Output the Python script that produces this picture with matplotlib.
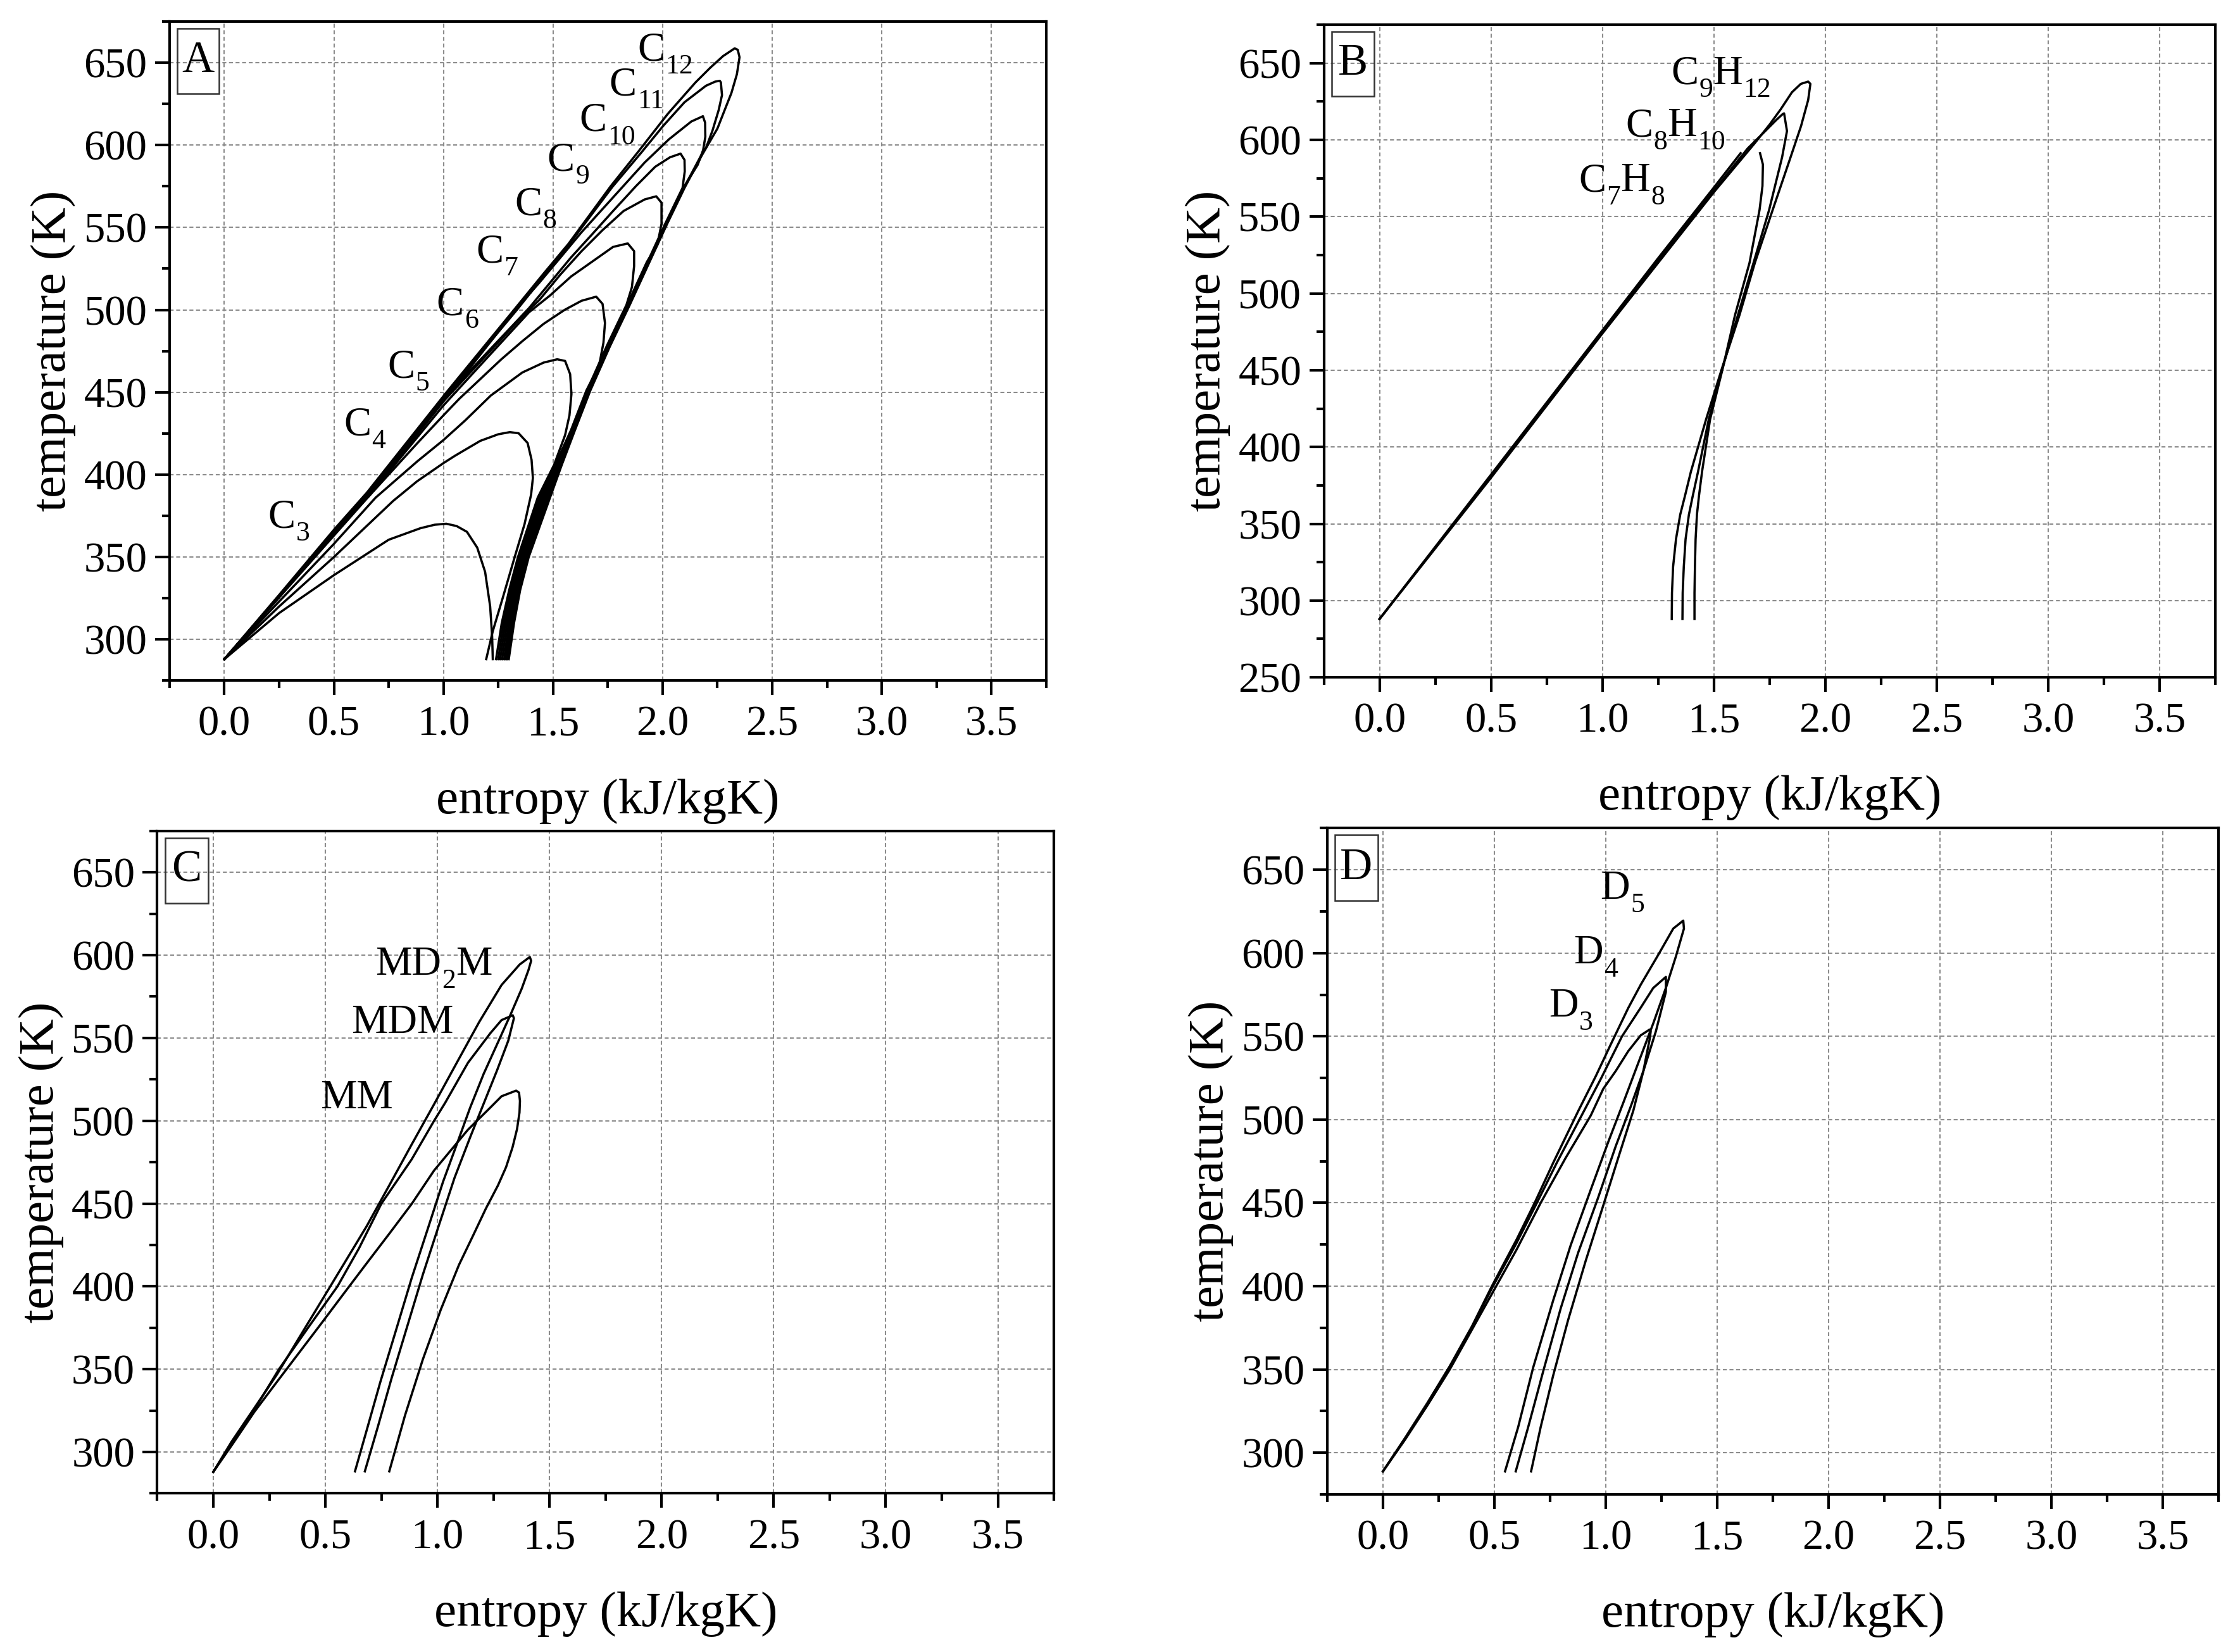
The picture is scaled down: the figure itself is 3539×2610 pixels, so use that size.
import re
import numpy as np
import matplotlib
matplotlib.use("Agg")
import matplotlib.pyplot as plt
from matplotlib.patches import Rectangle
from matplotlib.ticker import MultipleLocator, FormatStrFormatter
from matplotlib.transforms import offset_copy

plt.rcParams['font.family'] = ['Liberation Serif', 'DejaVu Serif']

nan = np.nan

# ---- panel A: n-alkanes (saturated liquid up to critical point, then vapour down) ----
C3_S = [0, 0.25, 0.50, 0.75, 0.895, 0.96, 1.013, 1.06, 1.107, 1.154, 1.19, 1.213, 1.222, 1.225]
C3_T = [288, 316, 339, 360.5, 367.5, 369.6, 370.2, 368.8, 365.3, 355.7, 341, 320, 302, 288]

C4_S = [0, 0.25, 0.50, 0.77, 0.88, 1.0, 1.053, 1.168, 1.25, 1.303, 1.343, 1.384, 1.402, 1.408,
        1.400, 1.37, 1.325, 1.27, 1.225, 1.195]
C4_T = [288, 320, 350, 384, 396, 407, 411.5, 420.5, 424.5, 425.8, 425.1, 419.2, 409, 398,
        388, 370, 350, 325, 305, 288]

C5_S = [0, 0.25, 0.50, 0.69, 0.88, 1.0, 1.1, 1.216, 1.36, 1.457, 1.519, 1.555, 1.578, 1.584,
        1.575, 1.555, 1.53, 1.505, 1.430, 1.340, 1.300, 1.266, 1.240]
C5_T = [288, 323, 358, 386, 408, 421, 433, 448, 462, 468, 470, 469, 461, 449,
        436, 424, 415, 406, 386, 350, 330, 310, 288]

C6_S = [0, 0.25, 0.50, 0.65, 0.784, 0.88, 1.0, 1.072, 1.168, 1.264, 1.36, 1.457, 1.553, 1.63, 1.697,
        1.726, 1.737, 1.73, 1.71, 1.652, 1.582, 1.510, 1.438, 1.347, 1.308, 1.274, 1.250]
C6_T = [288, 325.5, 363, 385.5, 405, 419, 436, 446, 458, 470, 481, 491.5, 500, 505.5, 508,
        503.6, 492, 480, 466, 451, 427, 406, 386, 350, 330, 310, 288]

C7_S = [0, 0.25, 0.503, 0.66, 1.0, 1.2, 1.39, 1.486, 1.582, 1.678, 1.774, 1.841,
        1.87, 1.87, 1.86, 1.835, 1.745, 1.655, 1.585, 1.515, 1.446, 1.354, 1.315, 1.282, 1.259]
C7_T = [288, 325.5, 365, 387, 442, 471, 498.5, 508.7, 520.2, 529.2, 538.2, 540.3,
        535.6, 526.6, 513.8, 503, 478, 451, 427, 406, 386, 350, 330, 310, 288]

C8_S = [0, 0.25, 0.503, 0.66, 1.0, 1.36, 1.4375, 1.534, 1.63, 1.726, 1.822, 1.918, 1.971,
        1.995, 1.995, 1.976, 1.928, 1.838, 1.748, 1.658, 1.588, 1.520, 1.454, 1.361, 1.322, 1.290, 1.268]
C8_T = [288, 326, 365.5, 387.5, 444.5, 496, 506, 521.5, 535.6, 548.4, 560, 567, 568.9,
        565, 552.2, 539.4, 529, 503, 478, 451, 427, 406, 386, 350, 330, 310, 288]

C9_S = [0, 0.25, 0.503, 0.66, 1.0, 1.39, 1.486, 1.582, 1.678, 1.774, 1.88, 1.966, 2.034, 2.082,
        2.10, 2.101, 2.091, 2.011, 1.931, 1.841, 1.751, 1.661, 1.591, 1.525, 1.462, 1.368, 1.329,
        1.298, 1.277]
C9_T = [288, 326.5, 366, 388, 446, 501, 516.4, 531.8, 545.8, 560, 575.3, 586.8, 592.6, 594.8,
        591, 584, 574, 552, 529, 503, 478, 451, 427, 406, 386, 350, 330, 310, 288]

C10_S = [0, 0.25, 0.503, 0.655, 1.03, 1.341, 1.4375, 1.534, 1.63, 1.726, 1.822, 1.918, 2.029,
         2.131, 2.184, 2.194, 2.195, 2.185, 2.16, 2.094, 2.014, 1.934, 1.844, 1.754, 1.664, 1.594,
         1.530, 1.470, 1.375, 1.336, 1.306, 1.284]
C10_T = [288, 326, 366, 388, 449.5, 502, 516.5, 531.8, 547.1, 561.2, 575.3, 589.4, 603.5,
         614.3, 617.5, 613.6, 605, 597, 588, 574, 552, 529, 503, 478, 451, 427,
         406, 386, 350, 330, 310, 288]

C11_S = [0, 0.25, 0.503, 0.65, 1.02, 1.335, 1.575, 1.77, 1.90, 2.005, 2.10, 2.198, 2.24, 2.261,
         2.266, 2.271, 2.256, 2.227, 2.198, 2.177, 2.097, 2.017, 1.937, 1.847, 1.757, 1.667, 1.597,
         1.535, 1.478, 1.382, 1.343, 1.314, 1.291]
C11_T = [288, 326.5, 366.5, 388.5, 450, 500, 540, 574.5, 595, 612, 626, 636, 638.5, 639,
         638, 630.3, 621.3, 608.5, 598.3, 594, 574, 552, 529, 503, 478, 451, 427,
         406, 386, 350, 330, 310, 288]

C12_S = [0, 0.25, 0.503, 0.65, 1.014, 1.322, 1.457, 1.57, 1.763, 1.889, 2.024, 2.15, 2.218, 2.276,
         2.329, 2.343, 2.351, 2.339, 2.314, 2.276, 2.25, 2.18, 2.10, 2.02, 1.94, 1.85, 1.76, 1.67,
         1.60, 1.540, 1.486, 1.389, 1.350, 1.322, 1.298]
C12_T = [288, 327, 367, 389, 450, 500, 522, 540, 575, 596, 619, 638, 647, 654,
         658.7, 657.8, 653.3, 643, 631.6, 618.8, 610, 594, 574, 552, 529, 503, 478, 451,
         427, 406, 386, 350, 330, 310, 288]

LABELS_A = ['C_3', 'C_4', 'C_5', 'C_6', 'C_7', 'C_8', 'C_9', 'C_10', 'C_11', 'C_12']
LABEL_S_A = [0.198, 0.545, 0.744, 0.968, 1.149, 1.325, 1.474, 1.62, 1.756, 1.885]
LABEL_T_A = [368, 424, 459, 497, 529, 557.6, 584.7, 608.6, 630.3, 651.5]

# ---- panel B: aromatics ----
C7H8_S = [0, 0.25, 0.5, 0.75, 1.0, 1.25, 1.5, 1.62, nan,
          1.707, 1.720, 1.718, 1.705, 1.66, 1.595, 1.541, 1.483, 1.447, 1.433, 1.424, 1.418,
          1.415, 1.413, 1.413]
C7H8_T = [288, 335, 382, 429, 476, 523, 569, 591.4, nan,
          591.4, 584, 570, 554.5, 520, 486, 452, 418, 384, 368, 356, 340, 322, 305, 288]

C8H10_S = [0, 0.25, 0.5, 0.75, 1.0, 1.25, 1.5, 1.652, 1.732, 1.78, 1.81, 1.815,
           1.828, 1.806, 1.748, 1.678, 1.608, 1.540, 1.477, 1.429, 1.405, 1.388, 1.373, 1.365,
           1.360, 1.359]
C8H10_T = [288, 334.5, 381, 428, 475, 521.5, 567, 594.5, 606, 613, 617, 617.3,
           605.8, 588.7, 554.5, 520, 486, 452, 418, 384, 368, 356, 340, 322, 305, 288]

C9H12_S = [0, 0.25, 0.5, 0.75, 1.0, 1.25, 1.5, 1.684, 1.75, 1.80, 1.85, 1.89, 1.923,
           1.933, 1.923, 1.891, 1.844, 1.764, 1.684, 1.615, 1.538, 1.465, 1.397, 1.37, 1.349,
           1.33, 1.317, 1.312, 1.311]
C9H12_T = [288, 334, 380, 427, 474, 520, 566, 598, 610, 620, 631, 636.5, 638,
           636.5, 626, 609, 588.7, 554.5, 520, 486, 452, 418, 384, 368, 356,
           340, 322, 305, 288]

LABELS_B = ['C_9H_12', 'C_8H_10', 'C_7H_8']
LABEL_S_B = [1.308, 1.104, 0.893]
LABEL_T_B = [636.5, 602.4, 566.5]

# ---- panel C: linear siloxanes ----
MD2M_S = [0, 0.082, 0.183, 0.283, 0.383, 0.504, 0.584, 0.684, 0.785, 0.885, 0.985, 1.086, 1.186,
          1.286, 1.367, 1.412, 1.418, 1.406, 1.376, 1.326, 1.266, 1.206, 1.146, 1.086, 1.025,
          0.955, 0.885, 0.815, 0.745, 0.684, 0.632]
MD2M_T = [288, 306.3, 326.5, 346.6, 369, 396, 413.9, 436.3, 461, 485.7, 510, 535, 559.6,
          582, 594.4, 598.9, 596.6, 591, 579.8, 564.1, 546.2, 528.3, 508, 485.7, 463.2,
          434, 405, 373.5, 342.2, 313, 288.3]

MDM_S = [0, 0.082, 0.183, 0.293, 0.42, 0.554, 0.65, 0.75, 0.885, 0.985, 1.035, 1.136, 1.236,
         1.286, 1.336, 1.341, 1.316, 1.266, 1.206, 1.146, 1.076, 1.005, 0.935, 0.865, 0.795,
         0.734, 0.676]
MDM_T = [288, 305.5, 325.5, 350, 374.5, 400, 423, 450, 476.7, 500, 511, 535, 552.9,
         560.8, 563.7, 561.9, 548.4, 530.5, 510.3, 490.1, 465.5, 436.3, 407.2, 375.8, 344.4,
         315.2, 288.3]

MM_S = [0, 0.082, 0.183, 0.283, 0.383, 0.484, 0.584, 0.684, 0.785, 0.885, 0.985, 1.136, 1.236,
        1.286, 1.351, 1.364, 1.368, 1.366, 1.355, 1.335, 1.306, 1.27, 1.216, 1.16, 1.096, 1.015,
        0.935, 0.855, 0.785]
MM_T = [288, 304, 324.2, 342.2, 360, 378, 396, 413.9, 431.8, 449.8, 470, 494.6, 508,
        514.8, 518.2, 517, 512, 505, 495, 484, 472, 461, 447, 431, 413, 386,
        356, 322, 288.3]

LABELS_C = ['MD_2M', 'MDM', 'MM']
LABEL_S_C = [0.722, 0.616, 0.477]
LABEL_T_C = [588.1, 552.9, 507.6]

# ---- panel D: cyclic siloxanes ----
D5_S = [0, 0.1, 0.2, 0.3, 0.40, 0.489, 0.60, 0.681, 0.764, 0.876, 0.955, 1.022, 1.101, 1.157,
        1.236, 1.303, 1.348, 1.351, 1.315, 1.27, 1.213, 1.146, 1.079, 1.011, 0.933, 0.843, 0.764,
        0.674, 0.607, 0.548]
D5_T = [288.8, 309, 330, 352, 376, 400, 428, 450, 474, 505, 526, 545, 567, 581,
        599, 614.7, 619.5, 614.7, 598, 579.1, 557.7, 534, 510.2, 486.5, 458, 424.7, 391.4,
        351, 315.4, 288.8]

D4_S = [0, 0.1, 0.2, 0.3, 0.40, 0.49, 0.60, 0.691, 0.78, 0.882, 0.98, 1.073, 1.157, 1.213, 1.27,
        1.27, 1.225, 1.169, 1.112, 1.045, 0.966, 0.876, 0.798, 0.719, 0.652, 0.596]
D4_T = [288.8, 308.5, 329.5, 351.5, 375.5, 399, 426, 450, 474, 500, 525, 550, 567.2, 579, 585.7,
        576.7, 553, 529.2, 507.8, 484.1, 453.2, 420, 386.7, 348.7, 315.4, 288.8]

D3_S = [0, 0.1, 0.2, 0.3, 0.50, 0.60, 0.708, 0.82, 0.933, 0.989, 1.045, 1.101, 1.157, 1.197,
        1.202, 1.197, 1.169, 1.124, 1.056, 0.989, 0.91, 0.831, 0.764, 0.708, 0.665]
D3_T = [288.8, 308, 328.5, 350, 398, 422, 450, 477, 502.5, 518.5, 529.2, 541.1, 550.6, 554.1,
        553, 548.2, 529.2, 505.5, 477, 448.5, 415.2, 379.6, 346.3, 315.4, 288.8]

LABELS_D = ['D_5', 'D_4', 'D_3']
LABEL_S_D = [0.975, 0.857, 0.745]
LABEL_T_D = [632.5, 593.8, 562]

X_TICKS = [0.0, 0.5, 1.0, 1.5, 2.0, 2.5, 3.0, 3.5]

panels = [
    ('A', [0.0757, 0.588, 0.3913, 0.399], 275, [300, 350, 400, 450, 500, 550, 600, 650],
     [(C3_S, C3_T), (C4_S, C4_T), (C5_S, C5_T), (C6_S, C6_T), (C7_S, C7_T), (C8_S, C8_T),
      (C9_S, C9_T), (C10_S, C10_T), (C11_S, C11_T), (C12_S, C12_T)],
     LABELS_A, LABEL_S_A, LABEL_T_A),
    ('B', [0.591, 0.590, 0.398, 0.395], 250, [250, 300, 350, 400, 450, 500, 550, 600, 650],
     [(C7H8_S, C7H8_T), (C8H10_S, C8H10_T), (C9H12_S, C9H12_T)],
     LABELS_B, LABEL_S_B, LABEL_T_B),
    ('C', [0.0702, 0.096, 0.4003, 0.401], 275, [300, 350, 400, 450, 500, 550, 600, 650],
     [(MD2M_S, MD2M_T), (MDM_S, MDM_T), (MM_S, MM_T)],
     LABELS_C, LABEL_S_C, LABEL_T_C),
    ('D', [0.5925, 0.0954, 0.3979, 0.4033], 275, [300, 350, 400, 450, 500, 550, 600, 650],
     [(D5_S, D5_T), (D4_S, D4_T), (D3_S, D3_T)],
     LABELS_D, LABEL_S_D, LABEL_T_D),
]

fig = plt.figure(figsize=(3539 / 300, 2610 / 300), dpi=300)
renderer = fig.canvas.get_renderer()


def chem_label(ax, x, y, name):
    # draws e.g. "C_9H_12" with low-set subscripts, piece by piece
    dx = 0.0
    for sub, main in re.findall(r'_(\d+)|([^_]+?)(?=_|$)', name):
        txt = sub if sub else main
        fs = 10.5 if sub else 15.5
        dy = -5.0 if sub else 0.0
        tr = offset_copy(ax.transData, fig=fig, x=dx, y=dy, units='points')
        t = ax.text(x, y, txt, fontsize=fs, transform=tr, ha='left', va='baseline')
        dx += t.get_window_extent(renderer).width * 72 / fig.dpi + (0.3 if not sub else 0.0)


for letter, rect, ymin, yticks, curves, labels, lab_s, lab_t in panels:
    ax = fig.add_axes(rect)
    for s, t in curves:
        ax.plot(s, t, color='black', lw=0.85, solid_joinstyle='round')

    ax.set_xlim(-0.25, 3.75)
    ax.set_ylim(ymin, 675)
    ax.set_xticks(X_TICKS)
    ax.set_yticks(yticks)
    ax.xaxis.set_major_formatter(FormatStrFormatter('%.1f'))
    ax.xaxis.set_minor_locator(MultipleLocator(0.25))
    ax.yaxis.set_minor_locator(MultipleLocator(25))
    ax.tick_params(which='both', direction='out', top=False, right=False, width=1.0,
                   labelsize=16)
    ax.tick_params(which='major', length=5.5)
    ax.tick_params(which='minor', length=2.8)
    ax.tick_params(axis='x', pad=4)
    ax.tick_params(axis='y', pad=3)
    for sp in ax.spines.values():
        sp.set_linewidth(1.0)
    ax.grid(True, which='major', color='#8c8c8c', lw=0.5, ls=(0, (3, 2)))
    ax.set_axisbelow(True)

    ax.set_xlabel('entropy (kJ/kgK)', fontsize=19, labelpad=13)
    ax.set_ylabel('temperature (K)', fontsize=19, labelpad=3)

    for name, xs, yt in zip(labels, lab_s, lab_t):
        chem_label(ax, xs, yt, name)

    # boxed panel letter
    bx, bw, bh = 0.0086, 0.048, 0.0986
    ax.add_patch(Rectangle((bx, 1 - 0.0105 - bh), bw, bh, transform=ax.transAxes,
                           fill=False, lw=0.6, edgecolor='#333333', zorder=5))
    ax.text(bx + bw / 2, 1 - 0.0105 - bh / 2, letter, transform=ax.transAxes,
            fontsize=17, ha='center', va='center', zorder=6)

fig.savefig('out.png', dpi=300)
